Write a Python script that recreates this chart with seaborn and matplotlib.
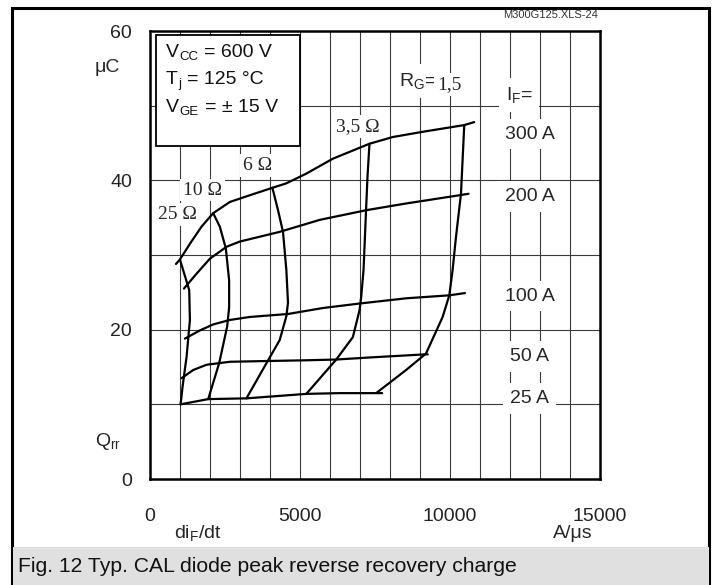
import matplotlib
matplotlib.use("Agg")
import matplotlib.pyplot as plt
import seaborn as sns
import pandas as pd
from matplotlib.patches import Rectangle

# ---------------- data ----------------
# Constant forward-current curves I_F (x = diF/dt in A/us, y = Qrr in uC)
if_300_x = [865, 998, 1330, 1718, 2106, 2660, 3325, 4080, 4545, 5211, 6096, 7316, 8092, 9089, 10475, 10808]
if_300_y = [28.8, 29.4, 31.5, 33.8, 35.6, 37.1, 38.0, 39.0, 39.6, 40.9, 42.9, 44.9, 45.8, 46.5, 47.4, 47.8]
if_200_x = [1131, 1553, 1995, 2550, 2993, 4323, 5653, 7207, 8537, 10309, 10619]
if_200_y = [25.5, 27.5, 29.5, 31.1, 31.8, 33.1, 34.7, 36.0, 36.9, 38.0, 38.2]
if_100_x = [1164, 1663, 2106, 2660, 3325, 4600, 5764, 6984, 8537, 9977, 10499]
if_100_y = [18.8, 19.9, 20.7, 21.3, 21.7, 22.1, 22.9, 23.5, 24.2, 24.6, 24.9]
if_50_x = [1053, 1441, 1885, 2660, 3880, 5211, 6208, 7426, 9200, 9256]
if_50_y = [13.5, 14.6, 15.3, 15.7, 15.8, 15.9, 16.0, 16.3, 16.7, 16.7]
if_25_x = [1020, 1940, 3215, 5211, 6318, 7738]
if_25_y = [10.0, 10.7, 10.8, 11.4, 11.5, 11.5]

# Constant gate-resistance curves R_G
rg_25_x = [998, 1141, 1307, 1330, 1220, 1087, 1020]
rg_25_y = [29.4, 27.5, 25.3, 21.3, 16.4, 12.4, 10.0]
rg_10_x = [2106, 2327, 2527, 2638, 2638, 2571, 2305, 1940]
rg_10_y = [35.6, 33.8, 30.9, 26.6, 23.0, 20.4, 15.5, 10.7]
rg_6_x = [4080, 4267, 4433, 4545, 4600, 4545, 4323, 3880, 3215]
rg_6_y = [39.0, 36.0, 33.1, 28.0, 23.6, 21.8, 18.6, 15.5, 10.8]
rg_3_5_x = [7316, 7250, 7207, 7118, 7040, 6984, 6762, 6208, 5211]
rg_3_5_y = [44.9, 40.5, 36.5, 28.0, 24.4, 22.6, 19.0, 16.0, 11.4]
rg_1_5_x = [10475, 10366, 10199, 10087, 9977, 9754, 9200, 8537, 7539]
rg_1_5_y = [47.4, 38.2, 32.4, 28.0, 24.6, 21.7, 16.8, 14.6, 11.5]

curves = {
    "300 A": (if_300_x, if_300_y), "200 A": (if_200_x, if_200_y),
    "100 A": (if_100_x, if_100_y), "50 A": (if_50_x, if_50_y),
    "25 A": (if_25_x, if_25_y),
    "25 Ω": (rg_25_x, rg_25_y), "10 Ω": (rg_10_x, rg_10_y),
    "6 Ω": (rg_6_x, rg_6_y), "3,5 Ω": (rg_3_5_x, rg_3_5_y),
    "1,5 Ω": (rg_1_5_x, rg_1_5_y),
}

x_ticks = [0, 5000, 10000, 15000]
x_tick_labels = ["0", "5000", "10000", "15000"]
y_ticks = [0, 20, 40, 60]
y_tick_labels = ["0", "20", "40", "60"]

if_labels = ["300 A", "200 A", "100 A", "50 A", "25 A"]
if_label_y = [46.2, 37.8, 24.5, 16.4, 10.8]
rg_labels = ["25 Ω", "10 Ω", "6 Ω", "3,5 Ω"]
rg_label_x = [915, 1746, 3592, 6934]
rg_label_y = [35.4, 38.7, 42.0, 47.2]

cond_lines = [
    [("V", False), ("CC", True), (" = 600 V", False)],
    [("T", False), ("j", True), (" = 125 °C", False)],
    [("V", False), ("GE", True), (" = ± 15 V", False)],
]

# ---------------- styling ----------------
sns.set_theme(style="white")
plt.rcParams["font.family"] = ["Liberation Sans", "DejaVu Sans"]
plt.rcParams["mathtext.fontset"] = "custom"
plt.rcParams["mathtext.rm"] = "Liberation Sans"
plt.rcParams["mathtext.it"] = "Liberation Sans:italic"
plt.rcParams["mathtext.bf"] = "Liberation Sans:bold"

W, H = 718, 585
fig = plt.figure(figsize=(W / 100, H / 100), dpi=100)
fig.patch.set_facecolor("white")
renderer = fig.canvas.get_renderer()

def fx(px):
    return px / W

def fy(py):
    return 1 - py / H

L, R, T, B = 150, 600, 31, 479
ax = fig.add_axes([fx(L), fy(B), fx(R) - fx(L), fy(T) - fy(B)])

rows = []
for name, (xs, ys) in curves.items():
    for i, (xv, yv) in enumerate(zip(xs, ys)):
        rows.append({"curve": name, "order": i, "x": xv, "y": yv})
df = pd.DataFrame(rows)

for name in curves:
    sns.lineplot(data=df[df.curve == name], x="x", y="y", sort=False,
                 estimator=None, color="black", linewidth=1.6, ax=ax,
                 zorder=4, legend=False)

ax.set_xlim(0, 15000)
ax.set_ylim(0, 60)

# grid
for xv in range(1000, 15000, 1000):
    ax.axvline(xv, color="#3a3a3a", linewidth=0.8, zorder=1)
for yv in range(10, 60, 10):
    ax.axhline(yv, color="#3a3a3a", linewidth=0.8, zorder=1)

for sp in ax.spines.values():
    sp.set_visible(True)
    sp.set_color("black")
    sp.set_linewidth(1.8)

ax.set_xticks(x_ticks)
ax.set_xticklabels(x_tick_labels, fontsize=14)
ax.set_yticks(y_ticks)
ax.set_yticklabels(y_tick_labels, fontsize=14)
ax.tick_params(axis="both", length=0, colors="#222222")
ax.tick_params(axis="x", pad=21)
ax.tick_params(axis="y", pad=13)
ax.set_xlabel("")
ax.set_ylabel("")

# condition box
ax.add_patch(Rectangle((200, 44.6), 4800, 14.8, facecolor="white",
                       edgecolor="black", linewidth=1.3, zorder=5))

def rich_text(x_px, base_px, parts, fs=14, color="#111111"):
    cur = x_px
    for s, sub in parts:
        size = fs * 0.68 if sub else fs
        yb = base_px + (3.5 if sub else 0)
        lead = len(s) - len(s.lstrip(" "))
        if lead:
            cur += lead * 0.278 * fs * 100 / 72
            s = s.lstrip(" ")
        t = fig.text(fx(cur), fy(yb), s, fontsize=size, ha="left",
                     va="baseline", color=color, zorder=6)
        bb = t.get_window_extent(renderer)
        cur += bb.width + 0.5

for parts, base in zip(cond_lines, [56.7, 84.0, 111.5]):
    rich_text(166, base, parts)

bbox_w = dict(boxstyle="square,pad=0.35", facecolor="white", edgecolor="none")

# I_F labels
ax.text(12305, 51.4, "I$_\\mathrm{F}$=", fontsize=14, ha="center",
        va="center", zorder=6, bbox=bbox_w)
for s, yv in zip(if_labels, if_label_y):
    ax.text(12650, yv, s, fontsize=14, ha="center", va="center", zorder=6,
            bbox=bbox_w)

# R_G labels
ax.text(8314, 53.3, "R$_\\mathrm{G}$=", fontsize=14, ha="left",
        va="center", zorder=6, bbox=bbox_w)
ax.text(9560, 52.8, "1,5", fontsize=14, ha="left", va="center", zorder=6,
        family="Liberation Serif", bbox=dict(boxstyle="square,pad=0.15",
                                             facecolor="white", edgecolor="none"))
for s, xv, yv in zip(rg_labels, rg_label_x, rg_label_y):
    ax.text(xv, yv, s, fontsize=14, ha="center", va="center", zorder=6,
            family="Liberation Serif",
            bbox=dict(boxstyle="square,pad=0.15", facecolor="white",
                      edgecolor="none"))

# axis unit labels (figure level)
fig.text(fx(107), fy(67), "μC", fontsize=14, ha="center", va="center")
fig.text(fx(108), fy(441), "Q$_\\mathrm{rr}$", fontsize=14, ha="center",
         va="center")
fig.text(fx(198), fy(533), "di$_\\mathrm{F}$/dt", fontsize=14, ha="center",
         va="center")
fig.text(fx(573), fy(533), "A/μs", fontsize=14, ha="center", va="center")
fig.text(fx(598), fy(15), "M300G125.XLS-24", fontsize=8, ha="right",
         va="center", color="#333333", zorder=3)

# outer frame and caption bar
fig.add_artist(Rectangle((fx(12), fy(585)), fx(709) - fx(12), fy(8) - fy(585),
                         transform=fig.transFigure, facecolor="none",
                         edgecolor="black", linewidth=2.2, zorder=0))
fig.add_artist(Rectangle((fx(13), fy(585)), fx(709) - fx(13), fy(547) - fy(585),
                         transform=fig.transFigure, facecolor="#e0e0e0",
                         edgecolor="none", zorder=1))
fig.text(fx(18), fy(566), "Fig. 12 Typ. CAL diode peak reverse recovery charge",
         fontsize=15.2, ha="left", va="center", color="#111111", zorder=2)

fig.savefig("out.png", dpi=100)
